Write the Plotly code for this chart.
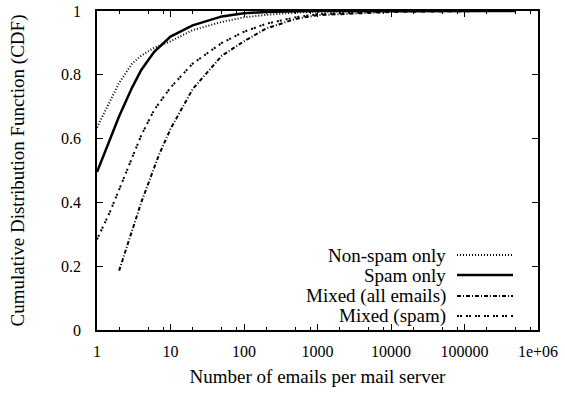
import plotly.graph_objects as go

# CDF of the number of emails handled per mail server
x_nonspam = [1, 1.5, 2, 3, 4, 6, 10, 20, 50, 100, 200, 500, 1000, 10000, 100000, 500000]
y_nonspam = [0.635, 0.72, 0.775, 0.835, 0.86, 0.885, 0.905, 0.94, 0.966, 0.98, 0.988, 0.995, 0.998, 0.9995, 1.0, 1.0]

x_spam = [1, 1.5, 2, 3, 4, 6, 10, 20, 50, 100, 200, 500, 1000, 10000, 100000, 500000]
y_spam = [0.495, 0.6, 0.67, 0.76, 0.815, 0.872, 0.92, 0.955, 0.983, 0.993, 0.997, 0.999, 1.0, 1.0, 1.0, 1.0]

x_mixed_all = [2, 3, 4, 5, 7, 10, 20, 50, 100, 200, 500, 1000, 10000, 100000, 500000]
y_mixed_all = [0.186, 0.31, 0.4, 0.46, 0.55, 0.63, 0.755, 0.86, 0.905, 0.945, 0.975, 0.987, 0.997, 0.9995, 1.0]

x_mixed_spam = [1, 1.5, 2, 3, 4, 6, 10, 20, 50, 100, 200, 500, 1000, 10000, 100000, 500000]
y_mixed_spam = [0.284, 0.37, 0.44, 0.54, 0.61, 0.69, 0.76, 0.835, 0.9, 0.935, 0.96, 0.98, 0.99, 0.999, 1.0, 1.0]

series = [
    ("Non-spam only", x_nonspam, y_nonspam, "1px,2px", 2),
    ("Spam only", x_spam, y_spam, "solid", 2.5),
    ("Mixed (all emails)", x_mixed_all, y_mixed_all, "4px,2px,1px,2px", 2),
    ("Mixed (spam)", x_mixed_spam, y_mixed_spam, "2px,1px,2px,4px", 2),
]

x_tickvals = [1, 10, 100, 1000, 10000, 100000, 1000000]
x_ticktext = ["1", "10", "100", "1000", "10000", "100000", "1e+06"]
x_minor = [m * 10 ** d for d in range(6) for m in (2, 5, 8)]
y_tickvals = [0, 0.2, 0.4, 0.6, 0.8, 1]
y_ticktext = ["0", "0.2", "0.4", "0.6", "0.8", "1"]

FONT = "Liberation Serif, Times New Roman, Times, serif"
TICK_FS = 16
TITLE_FS = 19
KEY_FS = 19

fig = go.Figure()
for name, xs, ys, dash, w in series:
    fig.add_trace(go.Scatter(x=xs, y=ys, mode="lines", name=name,
                             line=dict(color="black", width=w, dash=dash),
                             showlegend=False))

# key in the lower right corner: right-aligned labels followed by line samples
L, T, W, H = 97, 11, 441, 319
key_rows = [255, 275, 296, 316]
for (name, _, _, dash, w), py in zip(series, key_rows):
    yp = (T + H - py) / H
    fig.add_annotation(x=(448 - L) / W, y=yp, xref="paper", yref="paper",
                       text=name, showarrow=False, xanchor="right", yanchor="middle",
                       font=dict(family=FONT, size=KEY_FS, color="black"))
    fig.add_shape(type="line", xref="paper", yref="paper",
                  x0=(457 - L) / W, x1=(513 - L) / W, y0=yp, y1=yp,
                  line=dict(color="black", width=w, dash=dash))

fig.update_layout(
    width=565, height=393,
    margin=dict(l=L, r=565 - L - W, t=T, b=393 - T - H),
    paper_bgcolor="white", plot_bgcolor="white",
    font=dict(family=FONT, size=TICK_FS, color="black"),
    showlegend=False,
)
fig.update_xaxes(
    type="log", range=[0, 6], automargin=False,
    tickvals=x_tickvals, ticktext=x_ticktext,
    tickfont=dict(family=FONT, size=TICK_FS),
    ticks="inside", ticklen=6, tickwidth=1, tickcolor="black",
    minor=dict(tickvals=x_minor, ticks="inside", ticklen=3, tickcolor="black", showgrid=False),
    showline=True, linecolor="black", linewidth=1.5, mirror="allticks",
    showgrid=False, zeroline=False, ticklabelstandoff=6,
    title=dict(text="Number of emails per mail server", font=dict(family=FONT, size=TITLE_FS), standoff=11),
)
fig.update_yaxes(
    range=[0, 1], automargin=False,
    tickvals=y_tickvals, ticktext=y_ticktext,
    tickfont=dict(family=FONT, size=TICK_FS),
    ticks="inside", ticklen=6, tickwidth=1, tickcolor="black",
    showline=True, linecolor="black", linewidth=1.5, mirror="allticks",
    showgrid=False, zeroline=False, ticklabelstandoff=11,
    title=dict(text="Cumulative Distribution Function (CDF)", font=dict(family=FONT, size=TITLE_FS), standoff=31),
)

fig.write_html("out.html")
